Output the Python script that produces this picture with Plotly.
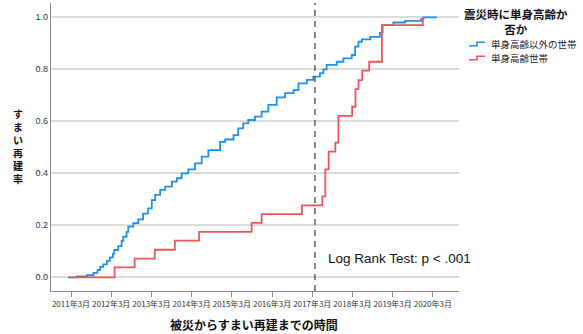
import plotly.graph_objects as go

# months since the disaster (2011年3月 = 0)
tick_months = [0, 12, 24, 36, 48, 60, 72, 84, 96, 108]
tick_labels = ["2011年3月", "2012年3月", "2013年3月", "2014年3月", "2015年3月",
               "2016年3月", "2017年3月", "2018年3月", "2019年3月", "2020年3月"]
y_ticks = [0.0, 0.2, 0.4, 0.6, 0.8, 1.0]
y_labels = ["0.0", "0.2", "0.4", "0.6", "0.8", "1.0"]

blue_name = "単身高齢以外の世帯"
blue_months = [-0.8, 1.8, 4.8, 6.7, 7.9, 8.7, 9.6, 10.7, 11.6, 12.5,
               12.9, 14.1, 15.1, 15.6, 16.6, 17.1, 18.6, 20.1, 21.5, 23.0,
               24.1, 25.1, 26.6, 28.1, 30.1, 31.6, 33.0, 35.0, 37.0, 39.0,
               41.0, 44.5, 46.0, 48.5, 49.9, 51.4, 52.9, 54.9, 56.9, 58.9,
               61.4, 63.9, 66.4, 67.9, 70.4, 72.3, 74.3, 75.3, 76.3, 79.3,
               81.3, 83.8, 84.8, 85.8, 86.8, 89.3, 92.2, 93.0, 96.2, 99.7,
               104.5, 105.2, 109.2]
blue_values = [0, 0.003, 0.008, 0.017, 0.028, 0.040, 0.050, 0.063, 0.077, 0.090,
               0.105, 0.120, 0.140, 0.156, 0.175, 0.195, 0.208, 0.223, 0.245, 0.265,
               0.297, 0.317, 0.336, 0.349, 0.368, 0.381, 0.400, 0.415, 0.438, 0.464,
               0.489, 0.521, 0.530, 0.547, 0.573, 0.592, 0.605, 0.618, 0.637, 0.663,
               0.692, 0.708, 0.720, 0.746, 0.759, 0.772, 0.785, 0.800, 0.817, 0.829,
               0.842, 0.855, 0.887, 0.906, 0.915, 0.925, 0.940, 0.970, 0.980, 0.986,
               0.993, 1.000, 1.000]

red_name = "単身高齢世帯"
red_months = [-0.8, 13.0, 19.0, 25.0, 31.0, 38.2, 53.9, 56.9, 68.9, 75.0, 75.9,
              76.9, 78.9, 79.8, 83.9, 84.9, 85.8, 86.9, 89.0, 92.8, 105.0]
red_values = [0, 0.038, 0.072, 0.106, 0.141, 0.175, 0.209, 0.243, 0.277, 0.311, 0.415,
              0.483, 0.518, 0.621, 0.656, 0.724, 0.758, 0.795, 0.829, 0.970, 1.000]

ref_month = 72.8  # dashed reference line
test_text = "Log Rank Test: p < .001"
legend_title = "震災時に単身高齢か<br>否か"
x_title = "被災からすまい再建までの時間"
y_title = "すまい再建率"

BLUE = "#1e90ee"
RED = "#f2545b"
FONT = "Liberation Sans, Arial, Noto Sans CJK JP, sans-serif"
CJK = "Noto Sans CJK JP, sans-serif"

W, H = 583, 334
L, R, T, B = 51, 124, 3, 43
pw, ph = W - L - R, H - T - B


def px_x(px):
    return (px - L) / pw


def px_y(py):
    return (H - B - py) / ph


fig = go.Figure()
fig.add_trace(go.Scatter(x=blue_months, y=blue_values, mode="lines", name=blue_name,
                         line=dict(color=BLUE, width=1.8, shape="hv"), showlegend=False))
fig.add_trace(go.Scatter(x=red_months, y=red_values, mode="lines", name=red_name,
                         line=dict(color=RED, width=1.8, shape="hv"), showlegend=False))

fig.add_shape(type="line", x0=ref_month, x1=ref_month, xref="x", y0=0, y1=1, yref="paper",
              line=dict(color="#606060", width=1.5, dash="6px,5px"))

annotations = []
annotations.append(dict(x=76.1, y=0.073, xref="x", yref="y", text=test_text, showarrow=False,
                        xanchor="left", yanchor="middle",
                        font=dict(family=FONT, size=13.5, color="#111")))
annotations.append(dict(x=px_x(254), y=px_y(324), xref="paper", yref="paper", text="<b>" + x_title + "</b>",
                        showarrow=False, xanchor="center", yanchor="middle",
                        font=dict(family=CJK, size=12, color="#111")))
annotations.append(dict(x=px_x(18), y=px_y(146), xref="paper", yref="paper",
                        text="<b>" + "<br>".join(y_title) + "</b>", showarrow=False,
                        xanchor="center", yanchor="middle", align="center",
                        font=dict(family=CJK, size=10, color="#111")))
annotations.append(dict(x=px_x(516), y=px_y(21.5), xref="paper", yref="paper",
                        text="<b>" + legend_title + "</b>", showarrow=False, xanchor="center",
                        yanchor="middle", align="center",
                        font=dict(family=CJK, size=11.5, color="#111")))
for name, color, yc in [(blue_name, BLUE, 43.5), (red_name, RED, 57.5)]:
    annotations.append(dict(x=px_x(488.5), y=px_y(yc), xref="paper", yref="paper", text=name,
                            showarrow=False, xanchor="left", yanchor="middle",
                            font=dict(family=CJK, size=9.5, color="#222")))
    path = "M{},{} L{},{} L{},{} L{},{}".format(
        px_x(469), px_y(yc + 2.3), px_x(477), px_y(yc + 2.3),
        px_x(477), px_y(yc - 1.3), px_x(485), px_y(yc - 1.3))
    fig.add_shape(type="path", path=path, xref="paper", yref="paper",
                  line=dict(color=color, width=1.6))

fig.update_layout(
    width=W, height=H,
    margin=dict(l=L, r=R, t=T, b=B, autoexpand=False),
    paper_bgcolor="white", plot_bgcolor="white",
    annotations=annotations,
    xaxis=dict(range=[-5.97, 115.8], tickvals=tick_months, ticktext=tick_labels,
               showgrid=False, zeroline=False, showline=True, linecolor="#8a8a8a", linewidth=1.2,
               ticks="outside", ticklen=5, tickcolor="#8a8a8a", tickwidth=1, tickangle=0,
               automargin=False,
               tickfont=dict(family=CJK, size=8, color="#333")),
    yaxis=dict(range=[-0.0527, 1.055], tickvals=y_ticks, ticktext=y_labels,
               showgrid=True, gridcolor="#dcdcdc", gridwidth=1.5, zeroline=False,
               showline=True, linecolor="#8a8a8a", linewidth=1.2, ticks="", automargin=False,
               tickfont=dict(family=FONT, size=9, color="#333")),
)

fig.write_html("out.html", config={"displayModeBar": False},
               post_script="document.body.style.margin='0';")
